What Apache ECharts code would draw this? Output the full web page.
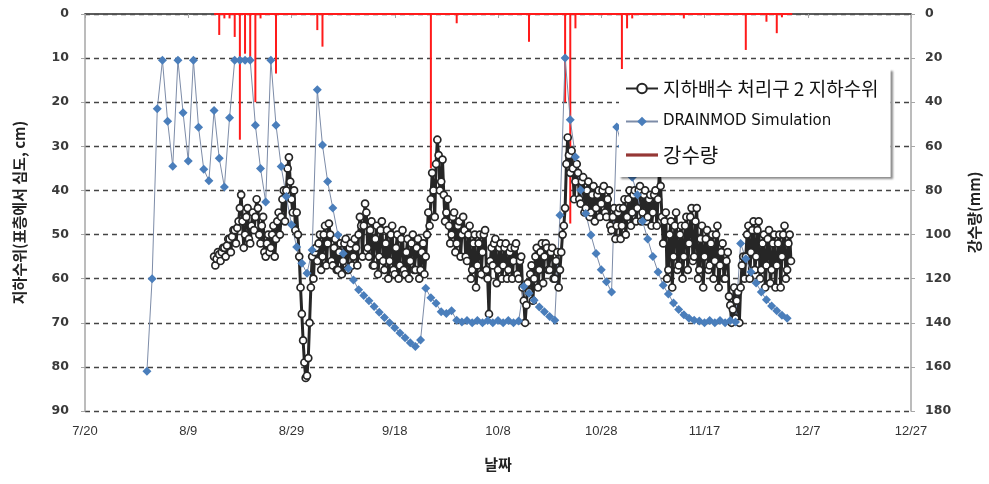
<!DOCTYPE html>
<html>
<head>
<meta charset="utf-8">
<script src="https://cdn.jsdelivr.net/npm/echarts/dist/echarts.min.js"></script>
<style>
  html, body { margin: 0; padding: 0; background: #fff; }
  #chart { width: 989px; height: 484px; }
</style>
</head>
<body>
<div id="chart"></div>
<script>
// ---- data ---------------------------------------------------------------
// date tick labels of the x axis (every 20 days)
const xTickLabels = ['7/20', '8/9', '8/29', '9/18', '10/8', '10/28', '11/17', '12/7', '12/27'];
const depthTicks = [0, 10, 20, 30, 40, 50, 60, 70, 80, 90];        // cm below surface
const rainTicks = [0, 20, 40, 60, 80, 100, 120, 140, 160, 180];    // mm

// measured water table, 4 readings per day starting 8/14 (cm below surface)
const obsStart = '8/14';
const obsPerDay = 4;
const obsValues = [
  55, 57, 55.5, 54,   54.5, 56, 54, 53,   53, 55, 52.5, 51,   51, 54, 50.5, 49,
  49, 52, 48.5, 47,   44, 41, 47, 53,     50, 46, 44, 51,     52, 48, 45, 49,
  46, 42, 44, 50,     52, 48, 46, 54,     55, 52, 50, 54,     53, 50, 48, 55,
  51, 47, 45, 50,     46, 42, 40, 47,     40, 35, 32.5, 38,   42, 45, 40, 49,
  45, 50, 55, 62,     68, 74, 79, 82.5,   82, 78, 70, 62,     55, 60, 54, 53,
  56, 52, 50, 58,     55, 50, 48, 57,     52, 47.5, 50, 56,   57, 53, 51, 58,
  58, 54, 52, 59,     56, 52, 51, 58,     58, 53, 52, 57,     55, 51, 53, 57,
  50, 46, 48, 55,     48, 43, 45, 53,     55, 49, 47, 57,     57, 51, 48, 59,
  55, 49, 47, 56,     58, 52, 49, 60,     56, 50, 48, 58,     59, 53, 50, 60,
  57, 51, 49, 58,     59, 54, 51, 60,     56, 52, 50, 58,     58, 53, 51, 60,
  58, 54, 52, 59,     55, 50, 45, 48,     42, 36, 40, 46,     34, 28.5, 32, 40,
  38, 33, 41, 47,     45, 42, 48, 52,     50, 46, 45, 54,     52, 48, 47, 55,
  50, 46, 49, 55,     56, 50, 48, 60,     58, 52, 50, 62,     57, 52, 50, 59,
  54, 50, 49, 58,     60, 68, 56, 53,     57, 52, 51, 61,     58, 53, 52, 60,
  57, 53, 52, 60,     58, 54, 53, 60,     56, 53, 52, 59,     60, 56, 55, 62,
  65, 70, 66, 61,     63, 59, 57, 65,     60, 55, 53, 62,     58, 54, 52, 61,
  55, 52, 53, 58,     58, 54, 53, 60,     60, 56, 54, 62,     58, 54, 50, 48,
  44, 34, 28, 32,     36, 31, 35, 42,     38, 34, 36, 42,     43, 38, 37, 45,
  44, 40, 38, 46,     45, 41, 39, 47,     44, 41, 40, 46,     43, 40, 39, 45,
  46, 42, 40, 48,     49, 46, 44, 51,     48, 45, 44, 51,     48, 44, 42, 50,
  46, 42, 40, 48,     45, 41, 40, 47,     44, 40, 39, 47,     45, 41, 40, 47,
  46, 42, 41, 48,     45, 41, 40, 48,     42, 36, 39, 46,     52, 47, 45, 60,
  58, 50, 47, 62,     55, 48, 45, 58,     57, 50, 48, 60,     55, 48, 46, 58,
  52, 46, 44, 56,     55, 47, 44, 60,     58, 51, 48, 62,     55, 51, 49, 58,
  57, 52, 50, 60,     56, 50, 48, 62,     57, 54, 52, 60,     60, 56, 54, 64,
  66, 70, 67, 62,     69, 65, 63, 70,     62, 57, 55, 60,     55, 50, 48, 60,
  54, 49, 47, 58,     55, 49, 47, 60,     58, 52, 50, 62,     57, 51, 49, 61,
  58, 52, 50, 62,     57, 52, 50, 62,     55, 50, 48, 60,     58, 52, 50, 56
];

// DRAINMOD simulated water table, daily from 8/1 (cm below surface)
const simStart = '8/1';
const simValues = [
  81, 60, 21.5, 10.5, 24.3, 34.5, 10.5, 22.4, 33.3, 10.5,
  25.7, 35.2, 37.8, 21.9, 32.7, 39.2, 23.5, 10.5, 10.5, 10.5,
  10.5, 25.2, 35, 42.6, 10.5, 25.2, 34.6, 41.4, 47.8, 52.8,
  56.5, 58.8, 53.5, 17.2, 29.7, 38, 44, 50.1, 54.3, 57.7,
  60.3, 62.5, 63.8, 65, 66.3, 67.6, 68.8, 70, 71.1, 72.3,
  73.4, 74.5, 75.4, 73.9, 62.2, 64.3, 65.6, 67.5, 67.9, 67.3,
  69.4, 69.8, 69.5, 70, 69.5, 70, 69.5, 70, 69.5, 70, 69.5, 70, 69.6,
  61.8, 63.3, 64.9, 66.4, 67.5, 68.6, 69.4, 45.6, 10, 24,
  32.4, 39.9, 45.2, 50.1, 54.3, 58, 60.7, 63, 25.6, 30,
  34, 37, 41, 47, 51, 55, 58.5, 61.5, 63.5, 65.5,
  67, 68.2, 69, 69.4, 69.6, 70, 69.5, 70, 69.5, 70, 69.5, 69.8,
  52, 55.5, 58.5, 61, 63, 64.8, 66.2, 67.3, 68.3, 69
];

// daily rainfall (mm)
const rainDates = ['8/15', '8/16', '8/17', '8/18', '8/19', '8/20', '8/21', '8/22', '8/23', '8/26',
                   '9/3', '9/4', '9/25', '9/30', '10/14', '10/21', '10/22', '10/23',
                   '11/1', '11/2', '11/3', '11/13', '11/25', '11/29', '12/1', '12/2'];
const rainMm = [9.5, 2, 2, 10.4, 57, 18, 22, 40, 2, 27,
                7.3, 14.8, 70, 4.2, 12.6, 40, 95, 6.5,
                25.4, 6.5, 2, 2, 16.3, 3.5, 8.7, 1.5];
// period covered by the rain gauge record
const rainPeriod = ['8/14', '12/4'];

const seriesNames = ['지하배수 처리구 2 지하수위', 'DRAINMOD Simulation', '강수량'];

// ---- helpers ------------------------------------------------------------
const ORIGIN = Date.UTC(2014, 6, 20);
const DAY = 86400000;
function dayOffset(md) {
  const [m, d] = md.split('/').map(Number);
  return (Date.UTC(2014, m - 1, d) - ORIGIN) / DAY;
}
function dateLabel(offset) {
  const t = new Date(ORIGIN + Math.round(offset) * DAY);
  return (t.getUTCMonth() + 1) + '/' + t.getUTCDate();
}

const obsData = obsValues.map((v, i) => [dayOffset(obsStart) + i / obsPerDay, v]);
const simData = simValues.map((v, i) => [dayOffset(simStart) + i, v]);
const rainData = rainDates.map((d, i) => [dayOffset(d), rainMm[i]]);
const rainBase = rainPeriod.map(d => [dayOffset(d), 0]);

const xMin = dayOffset(xTickLabels[0]);
const xMax = dayOffset(xTickLabels[xTickLabels.length - 1]);
const xStep = dayOffset(xTickLabels[1]) - xMin;

// ---- chart --------------------------------------------------------------
const chart = echarts.init(document.getElementById('chart'), null, { renderer: 'canvas' });

const tickFont = { fontFamily: 'DejaVu Sans', fontSize: 12.5, fontWeight: 'bold', color: '#3a3a3a' };
const titleFont = { fontFamily: 'Noto Sans CJK KR', fontSize: 15, fontWeight: 'bold', color: '#222' };
const RAIN_RED = '#ff1a1a';

chart.setOption({
  animation: false,
  backgroundColor: '#fff',
  grid: { left: 85, right: 78, top: 14, bottom: 73, containLabel: false, outerBoundsMode: 'none' },
  legend: {
    orient: 'vertical',
    left: 619,
    top: 69,
    padding: [10, 12, 12, 6],
    itemGap: 16,
    itemWidth: 32,
    itemHeight: 12,
    symbolKeepAspect: true,
    backgroundColor: '#fff',
    shadowColor: 'rgba(0,0,0,0.45)',
    shadowBlur: 2,
    shadowOffsetX: 2,
    shadowOffsetY: 2,
    selectedMode: false,
    data: [
      { name: seriesNames[0], textStyle: { fontFamily: 'Noto Sans CJK KR', fontSize: 19, color: '#111' } },
      { name: seriesNames[1], textStyle: { fontFamily: 'DejaVu Sans', fontSize: 15, color: '#111' } },
      { name: seriesNames[2], icon: 'path://M0,0 H40 V4 H0 Z',
        itemStyle: { color: '#953735', borderWidth: 0, borderColor: '#953735' },
        textStyle: { fontFamily: 'Noto Sans CJK KR', fontSize: 20, color: '#111' } }
    ]
  },
  xAxis: [
    {
      type: 'value', position: 'bottom', min: xMin, max: xMax, interval: xStep,
      name: '날짜', nameLocation: 'middle', nameGap: 46, nameTextStyle: titleFont,
      axisLine: { show: true, lineStyle: { color: '#a6a6a6', width: 1.5 } },
      axisTick: { show: true, length: 4, lineStyle: { color: '#a6a6a6' } },
      axisLabel: { margin: 14, formatter: v => dateLabel(v), showMinLabel: true, showMaxLabel: true,
                   fontFamily: 'Liberation Sans', fontSize: 13, color: '#333' },
      splitLine: { show: false }
    },
    {
      type: 'value', position: 'top', min: xMin, max: xMax,
      axisLine: { show: true, onZero: false, lineStyle: { color: '#3c3c3c', width: 1.5 } },
      axisTick: { show: false }, axisLabel: { show: false }, splitLine: { show: false }
    }
  ],
  yAxis: [
    {
      type: 'value', position: 'left', inverse: true,
      min: depthTicks[0], max: depthTicks[depthTicks.length - 1], interval: depthTicks[1] - depthTicks[0],
      name: '지하수위(표층에서 심도, cm)', nameLocation: 'middle', nameRotate: 90, nameGap: 58,
      nameTextStyle: titleFont,
      axisLine: { show: true, onZero: false, lineStyle: { color: '#a6a6a6', width: 1.5 } },
      axisTick: { show: true, length: 4, lineStyle: { color: '#a6a6a6' } },
      axisLabel: Object.assign({ margin: 16 }, tickFont),
      splitLine: { show: true, lineStyle: { color: '#444', width: 1.3, type: [5, 4] } }
    },
    {
      type: 'value', position: 'right', inverse: true,
      min: rainTicks[0], max: rainTicks[rainTicks.length - 1], interval: rainTicks[1] - rainTicks[0],
      name: '강수량(mm)', nameLocation: 'middle', nameRotate: 90, nameGap: 56,
      nameTextStyle: titleFont,
      axisLine: { show: true, onZero: false, lineStyle: { color: '#a6a6a6', width: 1.5 } },
      axisTick: { show: true, length: 4, lineStyle: { color: '#a6a6a6' } },
      axisLabel: Object.assign({ margin: 14 }, tickFont),
      splitLine: { show: false }
    }
  ],
  series: [
    {
      name: seriesNames[0], type: 'line', xAxisIndex: 0, yAxisIndex: 0,
      data: obsData, showAllSymbol: true,
      symbol: 'circle', symbolSize: 7,
      lineStyle: { color: '#262626', width: 3 },
      itemStyle: { color: '#ffffff', borderColor: '#262626', borderWidth: 1.7 }
    },
    {
      name: seriesNames[1], type: 'line', xAxisIndex: 0, yAxisIndex: 0,
      data: simData, showAllSymbol: true,
      symbol: 'diamond', symbolSize: 9,
      lineStyle: { color: '#7d8ca8', width: 1 },
      itemStyle: { color: '#4a7ebb', borderWidth: 0 }
    },
    {
      // zero line of the rainfall record along the top edge
      name: seriesNames[2], type: 'line', xAxisIndex: 0, yAxisIndex: 1,
      data: rainBase, symbol: 'none',
      lineStyle: { color: RAIN_RED, width: 2 },
      itemStyle: { color: RAIN_RED }
    },
    {
      name: seriesNames[2], type: 'bar', xAxisIndex: 0, yAxisIndex: 1,
      data: rainData, barWidth: 2,
      itemStyle: { color: RAIN_RED }
    }
  ]
});
</script>
</body>
</html>
